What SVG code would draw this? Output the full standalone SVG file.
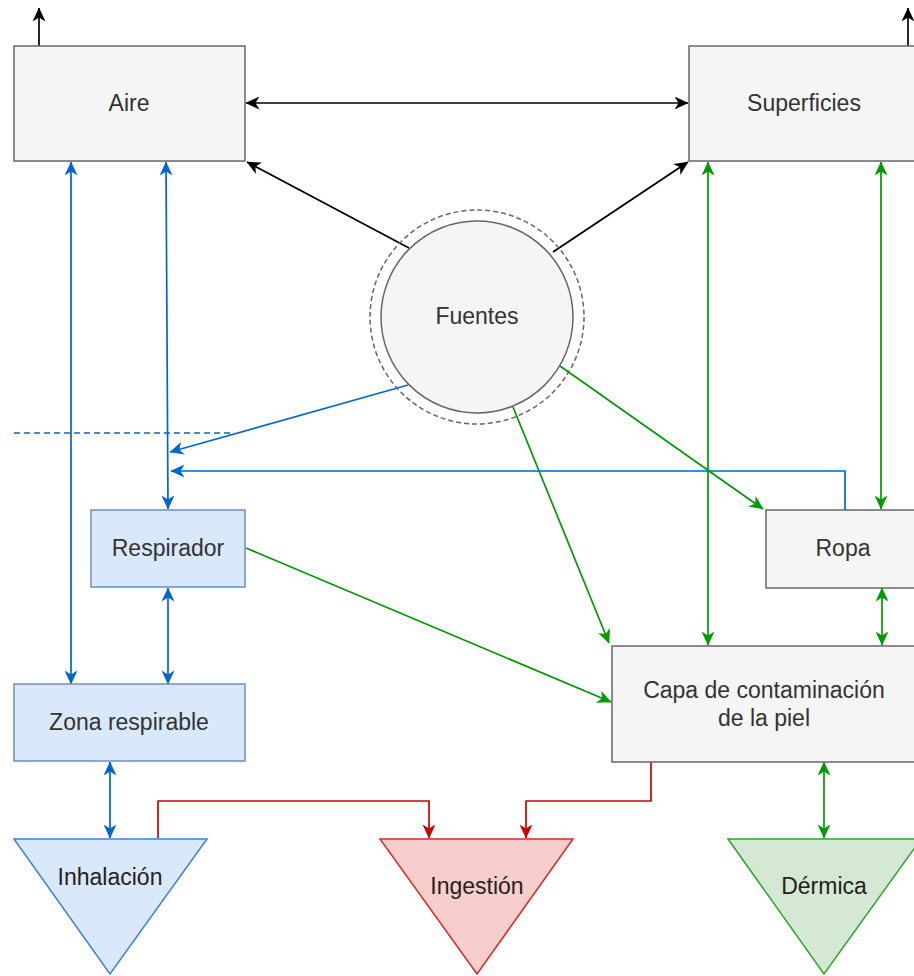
<svg xmlns="http://www.w3.org/2000/svg" width="914" height="976" viewBox="0 0 914 976">
<style>
.gray{fill:#f5f5f5;stroke:#666666;stroke-width:1.5}
.blue{fill:#dae8fc;stroke:#6c8ebf;stroke-width:1.5}
.t{font-family:"Liberation Sans",Arial,sans-serif;font-size:23px;fill:#333333;text-anchor:middle;dominant-baseline:central}
.td{font-family:"Liberation Sans",Arial,sans-serif;font-size:23px;fill:#222222;text-anchor:middle;dominant-baseline:central}
.k{fill:none;stroke:#000000;stroke-width:1.7}
.b{fill:none;stroke:#0066cc;stroke-width:1.7}
.g{fill:none;stroke:#009900;stroke-width:1.7}
.r{fill:none;stroke:#cc0000;stroke-width:1.7}
</style>
<defs>
<marker id="ak" viewBox="0 0 14 13" refX="13.5" refY="6.5" markerWidth="14" markerHeight="13" markerUnits="userSpaceOnUse" orient="auto-start-reverse"><path d="M0,0 L14,6.5 L0,13 L4,6.5 z" fill="#000000"/></marker>
<marker id="ab" viewBox="0 0 14 13" refX="13.5" refY="6.5" markerWidth="14" markerHeight="13" markerUnits="userSpaceOnUse" orient="auto-start-reverse"><path d="M0,0 L14,6.5 L0,13 L4,6.5 z" fill="#0066cc"/></marker>
<marker id="ag" viewBox="0 0 14 13" refX="13.5" refY="6.5" markerWidth="14" markerHeight="13" markerUnits="userSpaceOnUse" orient="auto-start-reverse"><path d="M0,0 L14,6.5 L0,13 L4,6.5 z" fill="#009900"/></marker>
<marker id="ar" viewBox="0 0 14 13" refX="13.5" refY="6.5" markerWidth="14" markerHeight="13" markerUnits="userSpaceOnUse" orient="auto-start-reverse"><path d="M0,0 L14,6.5 L0,13 L4,6.5 z" fill="#cc0000"/></marker>
</defs>

<g id="connectors">
<line class="k" x1="39" y1="46" x2="39" y2="8" marker-end="url(#ak)"/>
<line class="k" x1="908" y1="46" x2="908" y2="8" marker-end="url(#ak)"/>
<line class="k" x1="246" y1="103" x2="688" y2="103" marker-start="url(#ak)" marker-end="url(#ak)"/>
<line class="k" x1="409" y1="248" x2="247" y2="162" marker-end="url(#ak)"/>
<line class="k" x1="553" y1="252" x2="688" y2="162" marker-end="url(#ak)"/>

<line class="b" x1="71" y1="162" x2="71" y2="684" marker-start="url(#ab)" marker-end="url(#ab)"/>
<line class="b" x1="166" y1="162" x2="168" y2="509" marker-start="url(#ab)" marker-end="url(#ab)"/>
<line class="b" x1="408" y1="385" x2="170" y2="452" marker-end="url(#ab)"/>
<polyline class="b" points="845,510 845,471 171,471" marker-end="url(#ab)"/>
<line class="b" x1="14" y1="433" x2="232" y2="433" stroke-dasharray="6 4"/>
<line class="b" x1="168" y1="588" x2="168" y2="684" marker-start="url(#ab)" marker-end="url(#ab)"/>
<line class="b" x1="110" y1="762" x2="110" y2="838" marker-start="url(#ab)" marker-end="url(#ab)"/>

<line class="g" x1="708" y1="162" x2="708" y2="645" marker-start="url(#ag)" marker-end="url(#ag)"/>
<line class="g" x1="881" y1="162" x2="881" y2="509" marker-start="url(#ag)" marker-end="url(#ag)"/>
<line class="g" x1="882" y1="588" x2="882" y2="645" marker-start="url(#ag)" marker-end="url(#ag)"/>
<line class="g" x1="560" y1="366" x2="763" y2="509" marker-end="url(#ag)"/>
<line class="g" x1="513" y1="407" x2="609" y2="643" marker-end="url(#ag)"/>
<line class="g" x1="246" y1="548" x2="611" y2="702" marker-end="url(#ag)"/>
<line class="g" x1="824" y1="762" x2="824" y2="838" marker-start="url(#ag)" marker-end="url(#ag)"/>

<polyline class="r" points="158,838 158,801 429,801 429,838" marker-end="url(#ar)"/>
<polyline class="r" points="651,762 651,801 526,801 526,838" marker-end="url(#ar)"/>
</g>

<g id="aire"><rect class="gray" x="14" y="46" width="231" height="115"/><text class="t" x="129" y="103">Aire</text></g>
<g id="superficies"><rect class="gray" x="689" y="46" width="231" height="115"/><text class="t" x="804" y="103">Superficies</text></g>
<g id="fuentes">
<circle cx="477" cy="317" r="107" fill="none" stroke="#666666" stroke-width="1.5" stroke-dasharray="5 3"/>
<circle cx="477" cy="317" r="96" fill="#f5f5f5" stroke="#666666" stroke-width="1.5"/>
<text class="t" x="477" y="316">Fuentes</text></g>
<g id="respirador"><rect class="blue" x="91" y="510" width="154" height="77"/><text class="t" x="168" y="548">Respirador</text></g>
<g id="zona"><rect class="blue" x="14" y="684" width="231" height="77"/><text class="t" x="129" y="722">Zona respirable</text></g>
<g id="ropa"><rect class="gray" x="766" y="510" width="154" height="78"/><text class="t" x="843" y="548">Ropa</text></g>
<g id="capa"><rect class="gray" x="612" y="646" width="304" height="116"/><text class="t" x="764" y="690">Capa de contaminación</text><text class="t" x="764" y="718">de la piel</text></g>
<g id="inhalacion"><polygon points="14,839 207,839 110,974" fill="#dae8fc" stroke="#3b82d6" stroke-width="1.5"/><text class="td" x="110" y="877">Inhalación</text></g>
<g id="ingestion"><polygon points="380,839 573,839 477,974" fill="#f8cecc" stroke="#d42a2a" stroke-width="1.5"/><text class="td" x="477" y="886">Ingestión</text></g>
<g id="dermica"><polygon points="728,839 921,839 824,974" fill="#d5e8d4" stroke="#2aa52a" stroke-width="1.5"/><text class="td" x="824" y="886">Dérmica</text></g>
</svg>
